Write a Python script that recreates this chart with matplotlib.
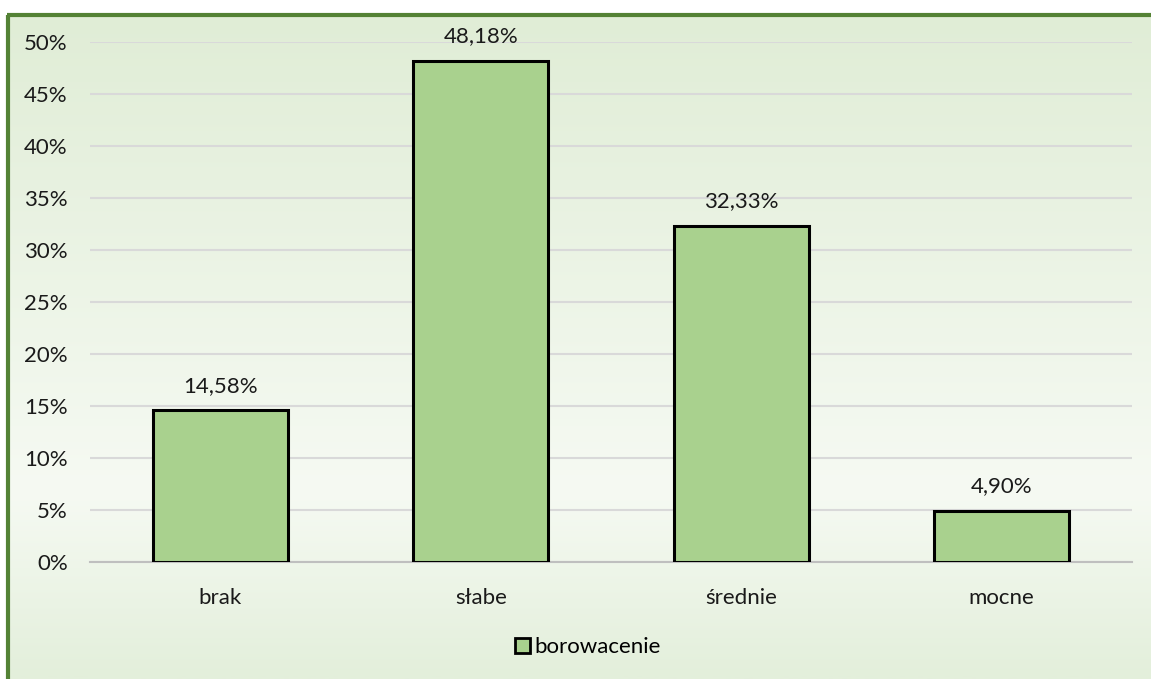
import matplotlib.pyplot as plt
import matplotlib.patches as mpatches
import numpy as np
from matplotlib.colors import LinearSegmentedColormap

categories = ['brak', 'słabe', 'średnie', 'mocne']
values = [14.58, 48.18, 32.33, 4.90]
series_name = 'borowacenie'
yticks = [0, 5, 10, 15, 20, 25, 30, 35, 40, 45, 50]

W, H = 1151, 679
fig = plt.figure(figsize=(W / 100, H / 100), dpi=100)
plt.rcParams['font.family'] = ['Lato', 'DejaVu Sans']
FS = 16

# background with gradient and green frame
bg = fig.add_axes([0, 0, 1, 1])
bg.set_xlim(0, W)
bg.set_ylim(H, 0)
bg.axis('off')
cmap = LinearSegmentedColormap.from_list('g', [(0, '#e0edd6'), (0.72, '#f6faf3'), (1, '#e3efdb')])
grad = np.linspace(0, 1, 300).reshape(-1, 1)
bg.imshow(grad, cmap=cmap, extent=(8, W, H, 14), aspect='auto', zorder=0)
bg.plot([8.5, 8.5], [H, 14.5], color='#548235', lw=3, solid_capstyle='butt')
bg.plot([7, W], [14.5, 14.5], color='#548235', lw=3, solid_capstyle='butt')

# plot area: x 90..1132, y 42..562 (pixels)
ax = fig.add_axes([90 / W, 1 - 562 / H, (1132 - 90) / W, (562 - 42) / H])
ax.patch.set_alpha(0)
x = np.arange(len(categories))
ax.bar(x, values, width=0.52, color='#a9d18e', edgecolor='black', linewidth=2.2, zorder=3)
for xi, v in zip(x, values):
    ax.text(xi, v + 1.4, f'{v:.2f}%'.replace('.', ','), ha='center', va='bottom',
            fontsize=FS, color='#1a1a1a')

ax.set_xlim(-0.5, len(categories) - 0.5)
ax.set_ylim(0, 50)
ax.set_yticks(yticks)
ax.set_yticklabels([f'{t}%' for t in yticks], fontsize=FS, color='#1a1a1a')
ax.set_xticks(x)
ax.set_xticklabels(categories, fontsize=FS, color='#1a1a1a')
ax.tick_params(axis='both', length=0)
ax.tick_params(axis='y', pad=16)
ax.tick_params(axis='x', pad=19)
ax.grid(axis='y', color='#d9d9d9', linewidth=1.5, zorder=0)
for s in ['top', 'right', 'left']:
    ax.spines[s].set_visible(False)
ax.spines['bottom'].set_color('#bfbfbf')
ax.spines['bottom'].set_linewidth(1.5)

handle = mpatches.Patch(facecolor='#a9d18e', edgecolor='black', linewidth=2.0, label=series_name)
fig.legend(handles=[handle], loc='center', bbox_to_anchor=(588 / W, 1 - 647 / H),
           frameon=False, fontsize=FS, handlelength=0.65, handleheight=0.65, handletextpad=0.2)

fig.savefig('out.png', dpi=100)
